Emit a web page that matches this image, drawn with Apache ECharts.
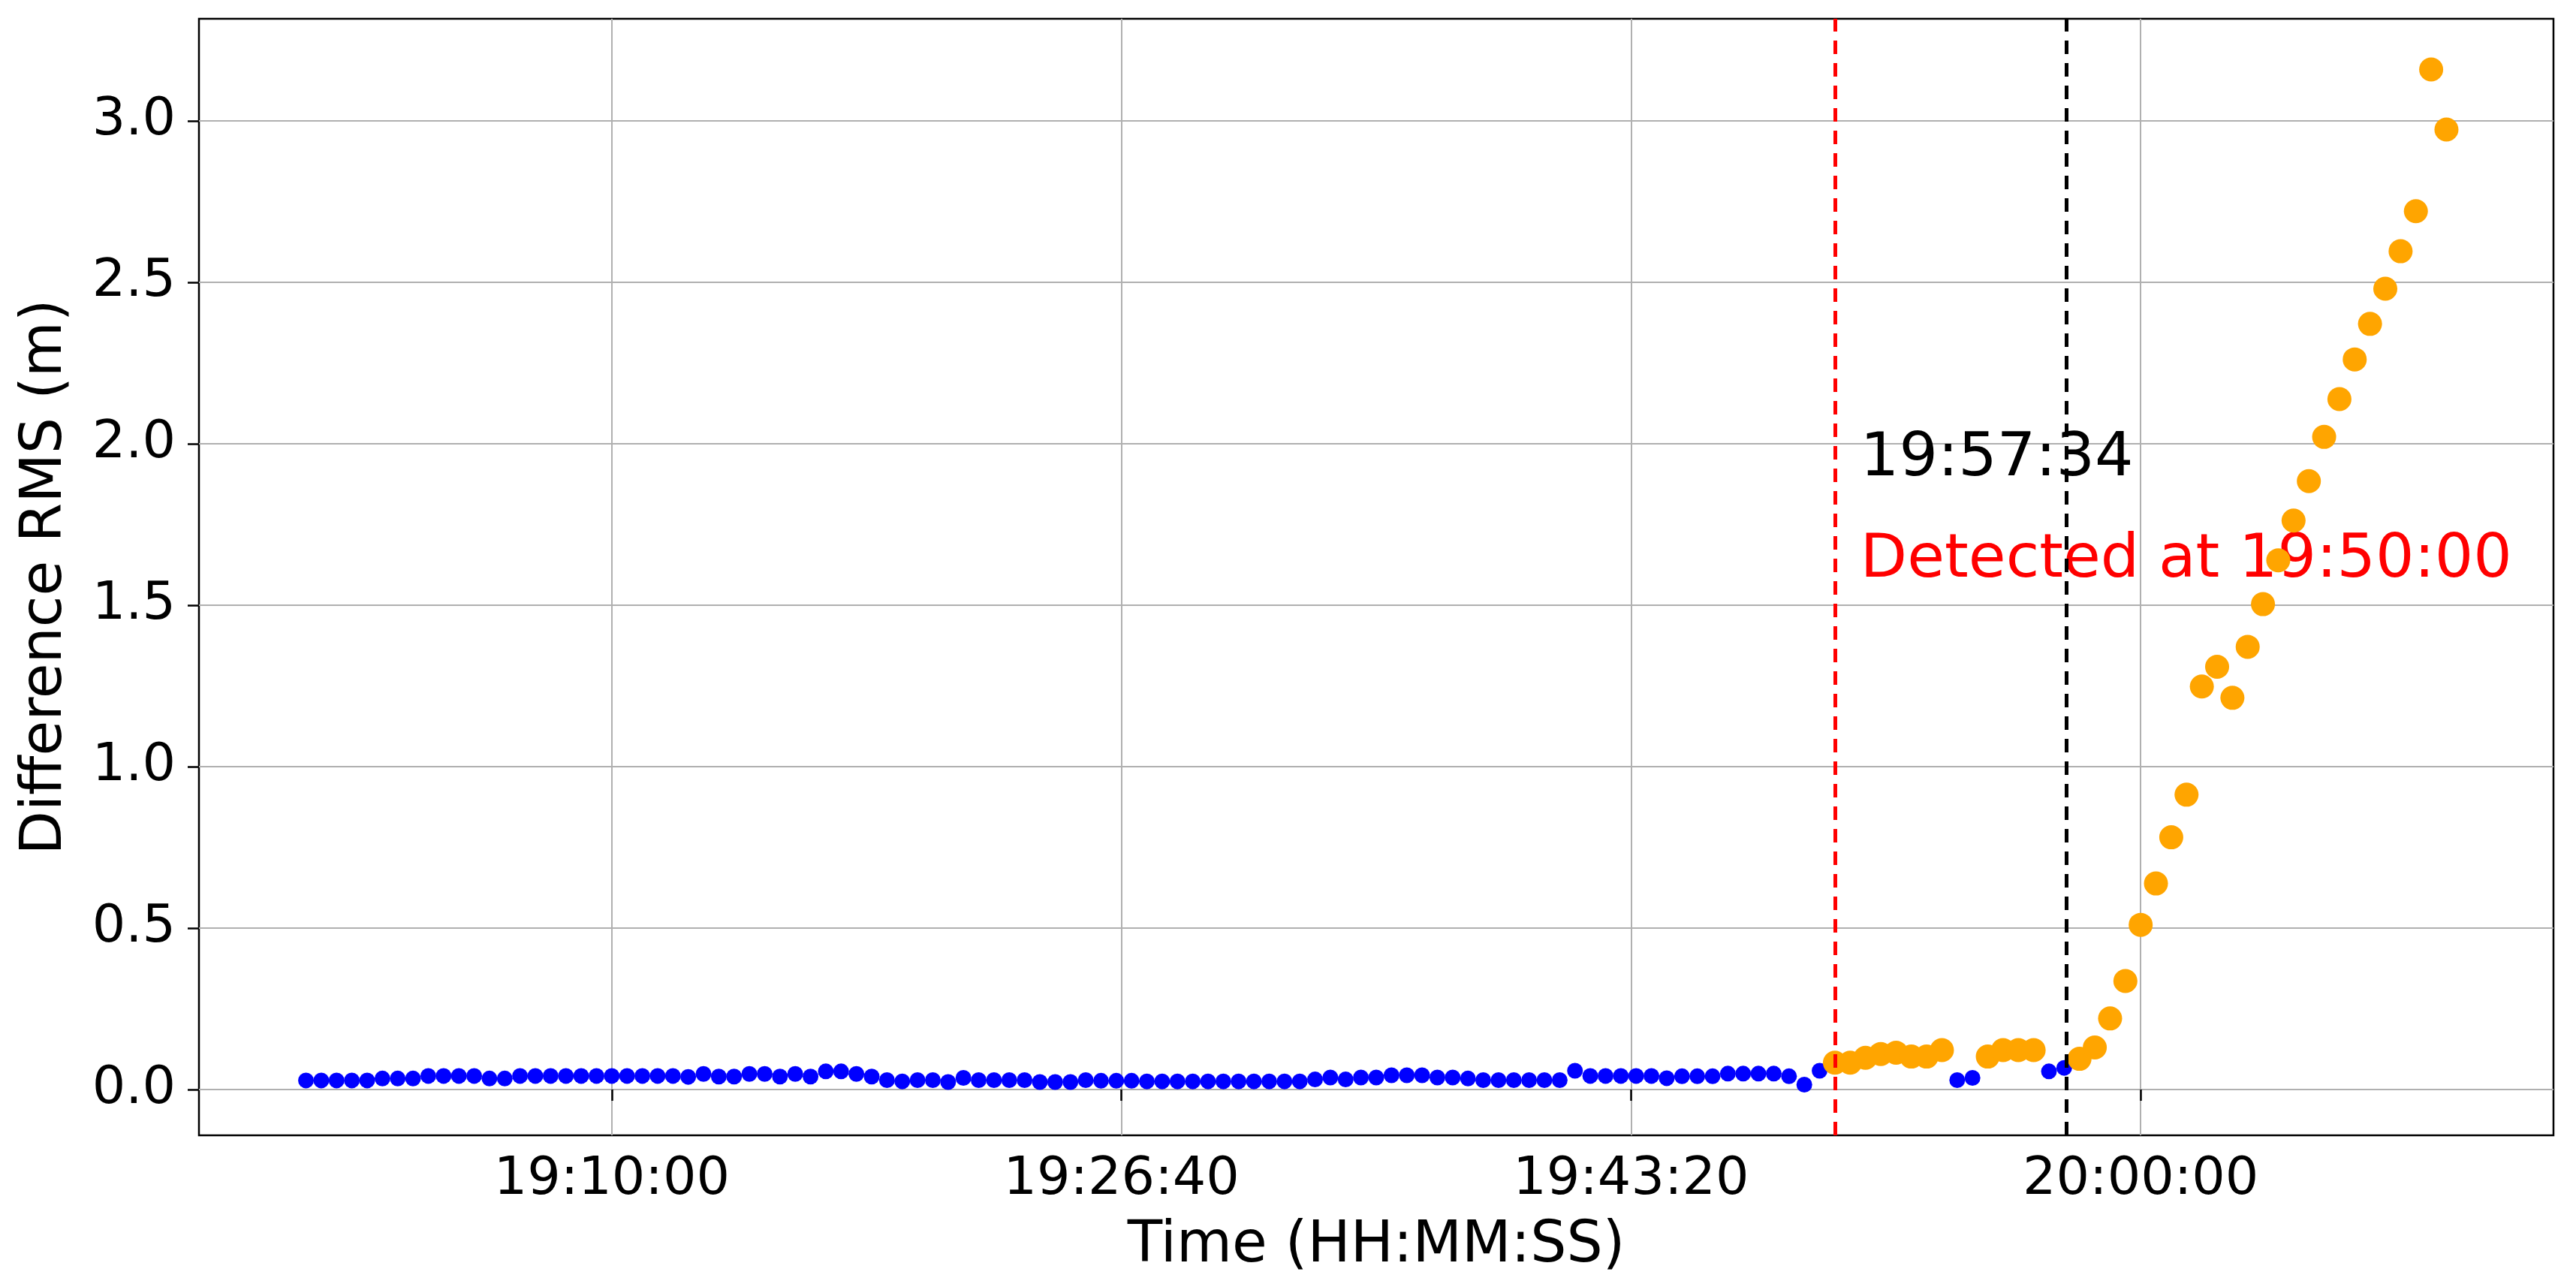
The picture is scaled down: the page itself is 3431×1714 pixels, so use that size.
<!DOCTYPE html>
<html>
<head>
<meta charset="utf-8">
<style>
  html, body { margin: 0; padding: 0; background: #fff; }
  #chart { width: 3431px; height: 1714px; }
</style>
<script src="https://cdn.jsdelivr.net/npm/echarts@6/dist/echarts.min.js"></script>
</head>
<body>
<div id="chart"></div>
<script>
// readings every 30 s starting 19:00:00
const startTime = '19:00:00'
const stepSeconds = 30
const rmsValues = [
  0.028, 0.028, 0.028, 0.028, 0.028, 0.034, 0.034, 0.034, 0.042, 0.042,
  0.042, 0.042, 0.034, 0.034, 0.042, 0.042, 0.042, 0.042, 0.042, 0.042,
  0.042, 0.042, 0.042, 0.042, 0.042, 0.039, 0.048, 0.040, 0.040, 0.048,
  0.048, 0.040, 0.048, 0.040, 0.056, 0.056, 0.048, 0.040, 0.029, 0.025,
  0.029, 0.029, 0.023, 0.036, 0.029, 0.029, 0.029, 0.029, 0.023, 0.023,
  0.023, 0.029, 0.027, 0.027, 0.027, 0.025, 0.025, 0.025, 0.025, 0.025,
  0.025, 0.025, 0.025, 0.025, 0.025, 0.025, 0.031, 0.037, 0.031, 0.037,
  0.037, 0.044, 0.044, 0.044, 0.037, 0.037, 0.034, 0.029, 0.029, 0.029,
  0.029, 0.029, 0.029, 0.058, 0.042, 0.042, 0.042, 0.042, 0.042, 0.035,
  0.041, 0.041, 0.041, 0.049, 0.049, 0.049, 0.049, 0.041, 0.015, 0.058,
  0.083, 0.083, 0.098, 0.110, 0.114, 0.102, 0.102, 0.122, 0.029, 0.036,
  0.102, 0.122, 0.122, 0.122, 0.056, 0.067, 0.095, 0.130, 0.220, 0.336,
  0.510, 0.638, 0.781, 0.913, 1.248, 1.309, 1.213, 1.371, 1.503, 1.639,
  1.762, 1.884, 2.021, 2.138, 2.261, 2.371, 2.480, 2.596, 2.720, 3.159,
  2.973,
]
// time spans flagged as anomalous (orange)
const anomalyRanges = [
  ['19:50:00', '19:53:30'],
  ['19:55:00', '19:56:30'],
  ['19:58:00', '20:10:00'],
]
const detectedAt = '19:50:00'
const eventAt = '19:57:34'
const xTickLabels = ['19:10:00', '19:26:40', '19:43:20', '20:00:00']
const yTickValues = [0, 0.5, 1.0, 1.5, 2.0, 2.5, 3.0]
const xRange = ['18:56:30', '20:13:30']
const yRange = [-0.142, 3.316]
// annotation anchors [time, value]
const eventNote = ['19:50:50', 1.952]
const detectNote = ['19:50:50', 1.638]

const FONT = 'DejaVu Sans'

function toSec(hms) {
  const [h, m, s] = hms.split(':').map(Number)
  return h * 3600 + m * 60 + s
}

function fmtSec(v) {
  const t = Math.round(v)
  const pad = (n) => String(n).padStart(2, '0')
  return `${pad(Math.floor(t / 3600))}:${pad(Math.floor((t % 3600) / 60))}:${pad(t % 60)}`
}

const t0 = toSec(startTime)
const ranges = anomalyRanges.map(([a, b]) => [toSec(a), toSec(b)])
const isAnomaly = (t) => ranges.some(([a, b]) => t >= a && t <= b)

const normalData = []
const anomalyData = []
rmsValues.forEach((v, i) => {
  const t = t0 + i * stepSeconds
  ;(isAnomaly(t) ? anomalyData : normalData).push([t, v])
})

const chart = echarts.init(document.getElementById('chart'), null, { renderer: 'canvas' })

chart.setOption({
  animation: false,
  backgroundColor: '#ffffff',
  textStyle: { fontFamily: FONT },
  grid: {
    left: 265,
    right: 30,
    top: 25,
    bottom: 202,
    show: true,
    borderColor: '#000',
    borderWidth: 2.5,
    backgroundColor: 'transparent',
  },
  xAxis: {
    type: 'value',
    min: toSec(xRange[0]),
    max: toSec(xRange[1]),
    name: 'Time (HH:MM:SS)',
    nameLocation: 'middle',
    nameGap: 110,
    nameTextStyle: { fontFamily: FONT, fontSize: 76, color: '#000' },
    axisLine: { show: false },
    axisTick: {
      show: true,
      inside: false,
      length: 15,
      customValues: xTickLabels.map(toSec),
      lineStyle: { color: '#000', width: 2.5 },
    },
    axisLabel: {
      customValues: xTickLabels.map(toSec),
      formatter: fmtSec,
      fontFamily: FONT,
      fontSize: 70,
      color: '#000',
      margin: 25,
    },
    splitLine: { show: true, lineStyle: { color: '#b0b0b0', width: 2 } },
  },
  yAxis: {
    type: 'value',
    min: yRange[0],
    max: yRange[1],
    name: 'Difference RMS (m)',
    nameLocation: 'middle',
    nameRotate: 90,
    nameGap: 166,
    nameTextStyle: { fontFamily: FONT, fontSize: 76, color: '#000' },
    axisLine: { show: false },
    axisTick: {
      show: true,
      inside: false,
      length: 15,
      customValues: yTickValues,
      lineStyle: { color: '#000', width: 2.5 },
    },
    axisLabel: {
      customValues: yTickValues,
      formatter: (v) => v.toFixed(1),
      fontFamily: FONT,
      fontSize: 70,
      color: '#000',
      margin: 31,
    },
    splitLine: { show: true, lineStyle: { color: '#b0b0b0', width: 2 } },
  },
  series: [
    {
      name: 'normal',
      type: 'scatter',
      z: 2,
      symbolSize: 21,
      itemStyle: { color: '#0000ff', opacity: 1 },
      data: normalData,
      markPoint: {
        z: 1,
        symbol: 'circle',
        symbolSize: 0,
        label: {
          show: true,
          position: [0, 0],
          align: 'left',
          verticalAlign: 'middle',
          fontFamily: FONT,
          fontSize: 81,
        },
        data: [
          {
            coord: [toSec(eventNote[0]), eventNote[1]],
            label: { formatter: eventAt, color: '#000' },
          },
          {
            coord: [toSec(detectNote[0]), detectNote[1]],
            label: { formatter: `Detected at ${detectedAt}`, color: '#ff0000' },
          },
        ],
      },
    },
    {
      name: 'anomaly',
      type: 'scatter',
      z: 3,
      symbolSize: 32,
      itemStyle: { color: '#ffa500', opacity: 1 },
      data: anomalyData,
      markLine: {
        z: 10,
        silent: true,
        symbol: 'none',
        label: { show: false },
        data: [
          { xAxis: toSec(detectedAt), lineStyle: { color: '#ff0000', width: 5, type: [18, 12] } },
          { xAxis: toSec(eventAt), lineStyle: { color: '#000000', width: 5, type: [18, 12] } },
        ],
      },
    },
  ],
})
</script>
</body>
</html>
